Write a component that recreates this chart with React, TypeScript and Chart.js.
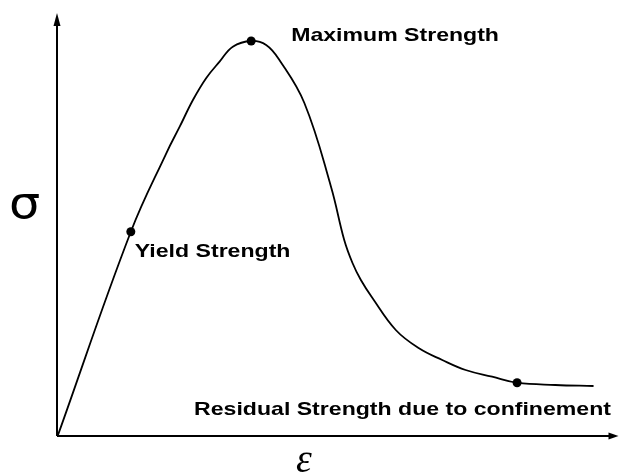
import React, { useEffect, useRef } from "react";
import { Chart, registerables } from "chart.js";

Chart.register(...registerables);

// Stress–strain curve (strain ε, stress σ) in relative units
const strain = [0, 13.04, 19.41, 21.79, 24.16, 26.55, 28.93, 31.3, 34.59, 37.27, 39.64, 44.11, 48.88, 51.25, 52.73, 54.23, 56.3, 60.48, 64.64, 68.8, 72.98, 77.73, 82.2, 89.05, 95.89];
const stress = [0, 48.29, 66.98, 73.23, 79.57, 84.8, 88.67, 92.23, 93.59, 92.64, 89.07, 78.86, 58.98, 46.32, 40.86, 36.82, 32.54, 24.94, 20.59, 17.81, 15.44, 13.85, 12.42, 11.88, 11.64];

// Key points
const keyLabels = ["Yield Strength", "Maximum Strength", "Residual Strength due to confinement"];
const keyStrain = [13.04, 34.59, 82.2];
const keyStress = [48.29, 93.59, 12.42];

const xAxisLabel = "ε";
const yAxisLabel = "σ";

export default function App() {
  const ref = useRef<HTMLCanvasElement | null>(null);

  useEffect(() => {
    if (!ref.current) return;

    const labelOffsets = [
      { dx: 4, dy: 25 },
      { dx: 40, dy: 0 },
      { dx: -323, dy: 32 },
    ];

    const decor = {
      id: "decor",
      beforeDatasetsDraw(chart: any) {
        const ctx = chart.ctx as CanvasRenderingContext2D;
        const a = chart.chartArea;
        const ax = a.left - 1;
        const ay = a.bottom + 1;
        ctx.save();
        ctx.strokeStyle = "#000";
        ctx.fillStyle = "#000";
        ctx.lineWidth = 2;
        ctx.beginPath();
        ctx.moveTo(ax, ay);
        ctx.lineTo(ax, a.top + 8);
        ctx.moveTo(ax, ay);
        ctx.lineTo(a.right - 6, ay);
        ctx.stroke();
        // arrowheads
        ctx.beginPath();
        ctx.moveTo(ax, a.top - 1);
        ctx.lineTo(ax - 3.5, a.top + 12);
        ctx.lineTo(ax + 3.5, a.top + 12);
        ctx.closePath();
        ctx.fill();
        ctx.beginPath();
        ctx.moveTo(a.right + 2, ay);
        ctx.lineTo(a.right - 8, ay - 3.5);
        ctx.lineTo(a.right - 8, ay + 3.5);
        ctx.closePath();
        ctx.fill();
        ctx.restore();
      },
      afterDraw(chart: any) {
        const ctx = chart.ctx as CanvasRenderingContext2D;
        const xs = chart.scales.x;
        const ys = chart.scales.y;
        ctx.save();
        ctx.fillStyle = "#000";
        ctx.textBaseline = "alphabetic";
        ctx.textAlign = "left";
        ctx.font = "bold 19px 'Liberation Sans', Arial, sans-serif";
        keyLabels.forEach((t, i) => {
          const px = xs.getPixelForValue(keyStrain[i]) + labelOffsets[i].dx;
          const py = ys.getPixelForValue(keyStress[i]) + labelOffsets[i].dy;
          ctx.save();
          ctx.translate(px, py);
          ctx.scale(1.215, 1);
          ctx.fillText(t, 0, 0);
          ctx.restore();
        });
        // axis symbols
        ctx.save();
        ctx.font = "44px 'DejaVu Sans', sans-serif";
        ctx.translate(9, 218);
        ctx.scale(1.12, 1);
        ctx.fillText(yAxisLabel, 0, 0);
        ctx.restore();
        ctx.font = "italic 40px 'Liberation Serif', serif";
        ctx.textAlign = "center";
        ctx.fillText(xAxisLabel, 304, 472);
        ctx.restore();
      },
    };

    const chart = new Chart(ref.current, {
      type: "scatter",
      data: {
        datasets: [
          {
            data: strain.map((x, i) => ({ x, y: stress[i] })),
            showLine: true,
            borderColor: "#000",
            borderWidth: 1.8,
            pointRadius: 0,
            tension: 0.4,
          },
          {
            data: keyStrain.map((x, i) => ({ x, y: keyStress[i] })),
            showLine: false,
            pointRadius: 4.5,
            pointBackgroundColor: "#000",
            pointBorderColor: "#000",
            pointBorderWidth: 0,
          },
        ],
      },
      options: {
        responsive: false,
        animation: false,
        layout: { padding: { left: 58, top: 14, right: 3, bottom: 39 } },
        plugins: { legend: { display: false }, tooltip: { enabled: false } },
        scales: {
          x: { type: "linear", min: 0, max: 100, display: false },
          y: { type: "linear", min: 0, max: 100, display: false },
        },
      },
      plugins: [decor],
    });

    return () => chart.destroy();
  }, []);

  return (
    <div style={{ position: "fixed", left: 0, top: 0, width: 621, height: 474, background: "#fff" }}>
      <canvas ref={ref} width={621} height={474} style={{ width: 621, height: 474 }} />
    </div>
  );
}
